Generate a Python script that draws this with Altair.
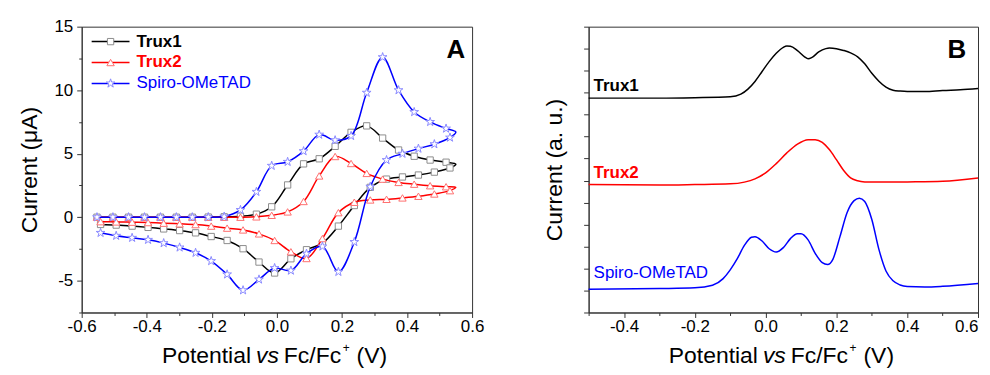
import altair as alt
import pandas as pd

FONT = "Liberation Sans"
W_A, W_B, H = 392, 391, 287

NAMES = ["Trux1", "Trux2", "Spiro-OMeTAD"]
LINE_COLORS = ["#000000", "#ff0000", "#0000ff"]
MARK_COLORS = ["#8c8c8c", "#ff7070", "#8a8aff"]
LABEL_WEIGHTS = ["bold", "bold", "normal"]
STAR = ("M0,-1L0.224,-0.309L0.951,-0.309L0.363,0.118L0.588,0.809L0,0.382"
        "L-0.588,0.809L-0.363,0.118L-0.951,-0.309L-0.224,-0.309Z")
SHAPES = ["square", "triangle-up", STAR]
SIZES = [40, 55, 85]

# ---------------- Panel A : cyclic voltammograms ----------------
FWD_V = [-0.553, -0.504, -0.456, -0.407, -0.358, -0.309, -0.260, -0.211, -0.162,
         -0.112, -0.063, -0.016, 0.033, 0.082, 0.130, 0.179, 0.228, 0.276, 0.325,
         0.374, 0.422, 0.471, 0.520]
TURN_V = 0.55
REV_V = [0.532, 0.484, 0.435, 0.386, 0.337, 0.287, 0.238, 0.189, 0.140, 0.091,
         0.043, -0.007, -0.055, -0.104, -0.153, -0.202, -0.250, -0.299, -0.348,
         -0.396, -0.445, -0.494, -0.542]

T1_FWD = [0, 0, 0, 0, 0, 0, 0, 0.01, 0.03, 0.08, 0.24, 0.82, 2.54, 4.2, 4.6, 5.58,
          6.68, 7.19, 6.23, 5.29, 4.8, 4.5, 4.33]
T1_TURN = 4.18
T1_REV = [3.88, 3.55, 3.32, 3.17, 3.0, 2.35, 0.92, -0.7, -2.04, -2.56, -3.27, -4.39,
          -3.53, -2.48, -1.83, -1.52, -1.23, -1.05, -0.92, -0.8, -0.7, -0.62, -0.57]

T2_FWD = [0, 0, 0, 0, 0, 0, 0, 0, 0, 0.0, 0.03, 0.15, 0.42, 1.24, 3.25, 4.78, 4.23,
          3.45, 3.0, 2.74, 2.6, 2.48, 2.4]
T2_TURN = 2.35
T2_REV = [2.09, 1.83, 1.65, 1.52, 1.41, 1.36, 1.18, 0.36, -1.68, -3.25, -2.72, -1.83,
          -1.31, -1.0, -0.86, -0.7, -0.58, -0.52, -0.47, -0.42, -0.39, -0.37, -0.35]

SP_FWD = [0, 0, 0, 0, 0, 0, 0, 0.01, 0.05, 0.57, 2.0, 4.05, 4.36, 5.2, 6.5, 6.06,
          6.4, 9.8, 12.6, 10.0, 8.28, 7.5, 6.98]
SP_TURN = 6.7
SP_REV = [6.27, 5.75, 5.4, 5.0, 4.5, 2.4, -1.95, -4.3, -2.3, -2.87, -4.2, -4.0, -4.9,
          -5.75, -4.5, -3.45, -2.8, -2.38, -2.04, -1.78, -1.62, -1.46, -1.23]

XA_TICKS = [-0.6, -0.5, -0.4, -0.3, -0.2, -0.1, 0.0, 0.1, 0.2, 0.3, 0.4, 0.5, 0.6]
YA_TICKS = [-7.5, -5, -2.5, 0, 2.5, 5, 7.5, 10, 12.5, 15]

# ---------------- Panel B : differential pulse voltammograms ----------------
B1_V = [-0.5, -0.3, -0.2, -0.1, -0.07, -0.05, -0.03, -0.01, 0.01, 0.03, 0.05, 0.06,
        0.07, 0.09, 0.11, 0.12, 0.13, 0.15, 0.17, 0.18, 0.2, 0.22, 0.24, 0.26, 0.28,
        0.3, 0.32, 0.34, 0.36, 0.38, 0.4, 0.45, 0.5, 0.55, 0.6]
B1_Y = [9.75, 9.75, 9.77, 9.81, 9.93, 10.16, 10.51, 10.96, 11.41, 11.79, 12.06, 12.12,
        12.11, 11.91, 11.63, 11.54, 11.59, 11.85, 12.00, 12.03, 12.00, 11.92, 11.81,
        11.63, 11.31, 10.88, 10.52, 10.25, 10.11, 10.07, 10.05, 10.05, 10.10, 10.13,
        10.19]
B2_V = [-0.5, -0.3, -0.2, -0.1, -0.06, -0.03, 0.0, 0.03, 0.06, 0.09, 0.12, 0.14, 0.16,
        0.18, 0.2, 0.22, 0.24, 0.26, 0.28, 0.3, 0.35, 0.4, 0.5, 0.6]
B2_Y = [5.82, 5.80, 5.82, 5.85, 5.93, 6.08, 6.35, 6.77, 7.26, 7.66, 7.86, 7.86, 7.74,
        7.41, 6.95, 6.47, 6.12, 5.99, 5.94, 5.93, 5.93, 5.94, 5.97, 6.12]
B3_V = [-0.5, -0.3, -0.2, -0.15, -0.12, -0.1, -0.08, -0.06, -0.04, -0.03, -0.01, 0.01,
        0.03, 0.05, 0.07, 0.09, 0.1, 0.12, 0.14, 0.16, 0.175, 0.19, 0.21, 0.23, 0.25,
        0.265, 0.28, 0.3, 0.32, 0.34, 0.36, 0.38, 0.4, 0.45, 0.5, 0.6]
B3_Y = [1.06, 1.09, 1.12, 1.24, 1.54, 1.94, 2.45, 3.05, 3.42, 3.45, 3.25, 2.90, 2.75,
        2.95, 3.36, 3.58, 3.58, 3.30, 2.69, 2.27, 2.18, 2.42, 3.45, 4.54, 5.09, 5.20,
        5.05, 4.23, 2.87, 1.89, 1.44, 1.25, 1.18, 1.16, 1.19, 1.32]
XB_TICKS = [-0.5, -0.4, -0.3, -0.2, -0.1, 0.0, 0.1, 0.2, 0.3, 0.4, 0.5, 0.6]
YB_TICKS = [0, 1, 2, 3, 4, 5, 6, 7, 8, 9, 10, 11, 12, 13]

# ---------------- helpers ----------------
MAJOR_X = "abs(round(datum.value*10)) % 2 == 0"
X_LABEL = ("abs(round(datum.value*10)) % 2 == 0 ? "
           "(datum.value < -0.001 ? '-' : '') + format(abs(datum.value), '.1f') : ''")
Y_LABEL = ("datum.value % 5 == 0 ? (datum.value < 0 ? '-' : '') + "
           "format(abs(datum.value), 'd') : ''")


def cv_frame(fwd, turn, rev):
    v = FWD_V + [TURN_V] + REV_V
    cur = fwd + [turn] + rev
    mk = [1] * len(FWD_V) + [0] + [1] * len(REV_V)
    return pd.DataFrame({"v": v, "i": cur, "mk": mk, "k": list(range(len(v)))})


xa = alt.X("v:Q", scale=alt.Scale(domain=[-0.6, 0.6], nice=False, zero=False),
           axis=alt.Axis(values=XA_TICKS, labelExpr=X_LABEL, title=None,
                         tickSize={"condition": {"test": MAJOR_X, "value": 5}, "value": 3},
                         labelFlush=False, labelOverlap=False, grid=False,
                         labelPadding=1))
ya = alt.Y("i:Q", scale=alt.Scale(domain=[-7.5, 15], nice=False, zero=False),
           axis=alt.Axis(values=YA_TICKS, labelExpr=Y_LABEL, title="Current (μA)",
                         tickSize={"condition": {"test": "datum.value % 5 == 0", "value": 5},
                                   "value": 3},
                         labelOverlap=False, grid=False, labelPadding=4,
                         titlePadding=12))


def x_title_layers():
    pieces = [
        ("Potential", 170, 338, 23, "normal", "right"),
        ("vs", 175, 338, 23, "italic", "left"),
        ("Fc/Fc", 203, 338, 23, "normal", "left"),
        ("+", 262, 327, 12, "normal", "left"),
        ("(V)", 276, 338, 23, "normal", "left"),
    ]
    out = []
    for txt, x, y, fs, style, al in pieces:
        out.append(
            alt.Chart(pd.DataFrame({"t": [txt]})).mark_text(
                font=FONT, fontSize=fs, fontStyle=style, align=al,
                baseline="alphabetic", color="black"
            ).encode(x=alt.value(x), y=alt.value(y), text="t:N")
        )
    return out


layers_a = []
for n, (fwd, turn, rev) in enumerate([(T1_FWD, T1_TURN, T1_REV),
                                      (T2_FWD, T2_TURN, T2_REV),
                                      (SP_FWD, SP_TURN, SP_REV)]):
    df = cv_frame(fwd, turn, rev)
    layers_a.append(
        alt.Chart(df).mark_line(interpolate="catmull-rom", color=LINE_COLORS[n],
                                strokeWidth=1.5).encode(x=xa, y=ya, order="k:Q")
    )
    layers_a.append(
        alt.Chart(df).transform_filter("datum.mk == 1").mark_point(
            shape=SHAPES[n], size=SIZES[n], filled=True, fill="white",
            stroke=MARK_COLORS[n], strokeWidth=1, opacity=1
        ).encode(x=xa, y=ya)
    )

# legend (panel A)
LEG_Y = [15, 36, 57]
for n, name in enumerate(NAMES):
    d = pd.DataFrame({"label": [name]})
    layers_a.append(alt.Chart(d).mark_rule(color=LINE_COLORS[n], strokeWidth=1.5).encode(
        x=alt.value(10), x2=alt.value(48), y=alt.value(LEG_Y[n])))
    layers_a.append(alt.Chart(d).mark_point(
        shape=SHAPES[n], size=SIZES[n], filled=True, fill="white",
        stroke=MARK_COLORS[n], strokeWidth=1, opacity=1
    ).encode(x=alt.value(29), y=alt.value(LEG_Y[n])))
    layers_a.append(alt.Chart(d).mark_text(
        font=FONT, fontSize=17, fontWeight=LABEL_WEIGHTS[n], color=LINE_COLORS[n],
        align="left", baseline="middle"
    ).encode(x=alt.value(55), y=alt.value(LEG_Y[n]), text="label:N"))

layers_a.append(alt.Chart(pd.DataFrame({"t": ["A"]})).mark_text(
    font=FONT, fontSize=26, fontWeight="bold", color="black", align="right",
    baseline="alphabetic").encode(x=alt.value(W_A - 7), y=alt.value(31), text="t:N"))
layers_a += x_title_layers()

chart_a = alt.layer(*layers_a).properties(width=W_A, height=H)

# ---------------- Panel B ----------------
xb = alt.X("v:Q", scale=alt.Scale(domain=[-0.5, 0.6], nice=False, zero=False),
           axis=alt.Axis(values=XB_TICKS, labelExpr=X_LABEL, title=None,
                         tickSize={"condition": {"test": MAJOR_X, "value": 5}, "value": 3},
                         labelFlush=True, labelOverlap=False, grid=False,
                         labelPadding=1))
yb = alt.Y("a:Q", scale=alt.Scale(domain=[0, 13], nice=False, zero=False),
           axis=alt.Axis(values=YB_TICKS, labels=False, tickSize=5, grid=False,
                         title="Current (a. u.)", titlePadding=17))

layers_b = []
for n, (vv, yy) in enumerate([(B1_V, B1_Y), (B2_V, B2_Y), (B3_V, B3_Y)]):
    df = pd.DataFrame({"v": vv, "a": yy})
    layers_b.append(alt.Chart(df).mark_line(
        interpolate="monotone", color=LINE_COLORS[n], strokeWidth=1.5
    ).encode(x=xb, y=yb))

B_LAB_Y = [65, 152, 252]
for n, name in enumerate(NAMES):
    layers_b.append(alt.Chart(pd.DataFrame({"label": [name]})).mark_text(
        font=FONT, fontSize=17, fontWeight=LABEL_WEIGHTS[n], color=LINE_COLORS[n],
        align="left", baseline="alphabetic"
    ).encode(x=alt.value(5), y=alt.value(B_LAB_Y[n]), text="label:N"))

layers_b.append(alt.Chart(pd.DataFrame({"t": ["B"]})).mark_text(
    font=FONT, fontSize=26, fontWeight="bold", color="black", align="right",
    baseline="alphabetic").encode(x=alt.value(W_B - 12), y=alt.value(31), text="t:N"))
layers_b += x_title_layers()

chart_b = alt.layer(*layers_b).properties(width=W_B, height=H)

chart = alt.HConcatChart(
    hconcat=[chart_a, chart_b], spacing=117, bounds="flush",
    padding={"left": 10, "top": 8, "right": 0, "bottom": 0}
).configure_axis(
    labelFont=FONT, titleFont=FONT, labelFontSize=17, titleFontSize=23,
    titleFontWeight="normal", labelColor="black", titleColor="black",
    domainColor="#333333", tickColor="#333333", domainWidth=1, tickWidth=1
).configure_view(stroke="#333333", strokeWidth=1)

chart.save("out.html", embed_options={"renderer": "svg", "actions": False})
